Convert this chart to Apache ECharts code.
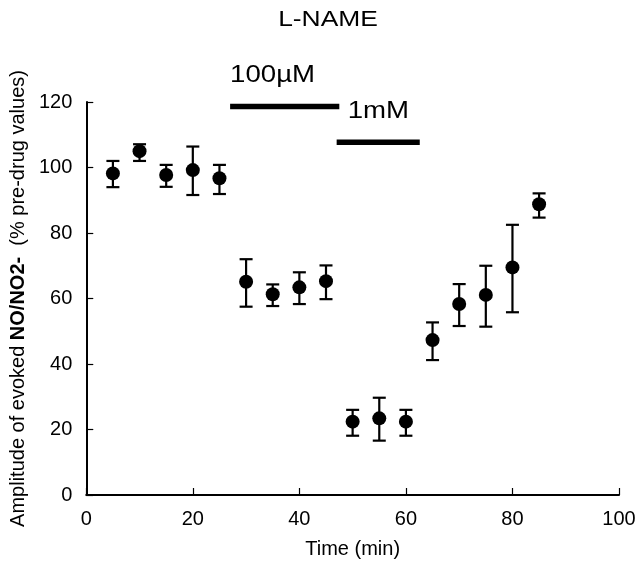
<!DOCTYPE html>
<html>
<head>
<meta charset="utf-8">
<script src="https://cdn.jsdelivr.net/npm/echarts@6/dist/echarts.min.js"></script>
<style>html,body{margin:0;padding:0;background:#fff;}#c{width:640px;height:567px;}</style>
</head>
<body>
<div id="c"></div>
<script>
const times = [5, 10, 15, 20, 25, 30, 35, 40, 45, 50, 55, 60, 65, 70, 75, 80, 85];
const means = [98.2, 105, 97.7, 99.2, 96.7, 65.1, 61.3, 63.4, 65.3, 22.4, 23.4, 22.4, 47.3, 58.3, 61.1, 69.5, 88.8];
const upper = [102, 107.1, 100.8, 106.4, 100.8, 72, 64.3, 68, 70.1, 26, 29.7, 26, 52.7, 64.4, 70, 82.5, 92.1];
const lower = [94, 102, 94.1, 91.6, 91.9, 57.5, 57.7, 58.3, 59.8, 18.1, 16.6, 18.1, 41.2, 51.6, 51.4, 55.8, 84.7];
const xTicks = [0, 20, 40, 60, 80, 100];
const yTicks = [0, 20, 40, 60, 80, 100, 120];
const drugLabels = ['100\u00b5M', '1mM'];
const drugStart = [27.0, 47.0];
const drugEnd = [47.5, 62.6];
const drugLevel = [118.6, 107.7];

const FONT = '"Liberation Sans", Arial, Helvetica, sans-serif';
const chart = echarts.init(document.getElementById('c'));

const errData = times.map((t, i) => [t, lower[i], upper[i]]);
const ptData = times.map((t, i) => [t, means[i]]);
const drugData = drugLabels.map((l, i) => [drugStart[i], drugEnd[i], drugLevel[i]]);
const labelDx = [0, 11];

chart.setOption({
  animation: false,
  backgroundColor: '#fff',
  graphic: [{
    type: 'text', x: 328, y: 9, scaleX: 1.2,
    style: { text: 'L-NAME', font: '22px ' + FONT, fill: '#000',
             textAlign: 'center', textVerticalAlign: 'top' }
  }],
  grid: { left: 82, right: 21, top: 102, bottom: 72 },
  xAxis: {
    type: 'value', min: xTicks[0], max: xTicks[xTicks.length - 1], interval: 20,
    name: 'Time (min)', nameLocation: 'middle', nameGap: 44,
    nameTextStyle: { color: '#000', fontSize: 20, fontFamily: FONT },
    axisLine: { onZero: false, lineStyle: { color: '#000', width: 2 } },
    axisTick: { inside: true, length: 7, lineStyle: { color: '#000', width: 1.2 } },
    axisLabel: { color: '#000', fontSize: 20, fontFamily: FONT, margin: 14,
      formatter: v => xTicks.includes(v) ? String(v) : '' },
    splitLine: { show: false }
  },
  yAxis: {
    type: 'value', min: yTicks[0], max: yTicks[yTicks.length - 1], interval: 20,
    name: '{n|Amplitude of evoked }{b|NO/NO2-}{n|  (% pre-drug values)}',
    nameLocation: 'middle', nameGap: 56, nameRotate: 90,
    nameTextStyle: { color: '#000', fontFamily: FONT,
      rich: { n: { fontSize: 20, fontFamily: FONT, color: '#000' },
              b: { fontSize: 20, fontFamily: FONT, color: '#000', fontWeight: 'bold' } } },
    axisLine: { onZero: false, lineStyle: { color: '#000', width: 2 } },
    axisTick: { inside: true, length: 7, lineStyle: { color: '#000', width: 1.2 } },
    axisLabel: { color: '#000', fontSize: 20, fontFamily: FONT, margin: 14,
      formatter: v => yTicks.includes(v) ? String(v) : '' },
    splitLine: { show: false }
  },
  series: [
    {
      type: 'custom',
      data: errData,
      encode: { x: 0, y: [1, 2] },
      renderItem: function (params, api) {
        const x = api.value(0);
        const lo = api.coord([x, api.value(1)]);
        const hi = api.coord([x, api.value(2)]);
        const w = 6.5;
        const st = { stroke: '#000', lineWidth: 2.2 };
        return {
          type: 'group',
          children: [
            { type: 'line', shape: { x1: lo[0], y1: lo[1], x2: hi[0], y2: hi[1] }, style: st },
            { type: 'line', shape: { x1: hi[0] - w, y1: hi[1], x2: hi[0] + w, y2: hi[1] }, style: st },
            { type: 'line', shape: { x1: lo[0] - w, y1: lo[1], x2: lo[0] + w, y2: lo[1] }, style: st }
          ]
        };
      },
      z: 2
    },
    {
      type: 'scatter',
      data: ptData,
      symbol: 'circle',
      symbolSize: 14,
      itemStyle: { color: '#000', opacity: 1 },
      z: 3
    },
    {
      type: 'custom',
      clip: false,
      data: drugData,
      encode: { x: [0, 1], y: 2 },
      renderItem: function (params, api) {
        const i = params.dataIndex;
        const a = api.coord([api.value(0), api.value(2)]);
        const b = api.coord([api.value(1), api.value(2)]);
        return {
          type: 'group',
          children: [
            { type: 'line', shape: { x1: a[0], y1: a[1], x2: b[0], y2: b[1] },
              style: { stroke: '#000', lineWidth: 5.5 } },
            { type: 'text', x: a[0] + labelDx[i], y: a[1] - 19.5, scaleX: 1.2,
              style: { text: drugLabels[i], font: '23px ' + FONT, fill: '#000',
                       textAlign: 'left', textVerticalAlign: 'bottom' } }
          ]
        };
      },
      z: 4
    }
  ]
});
</script>
</body>
</html>
